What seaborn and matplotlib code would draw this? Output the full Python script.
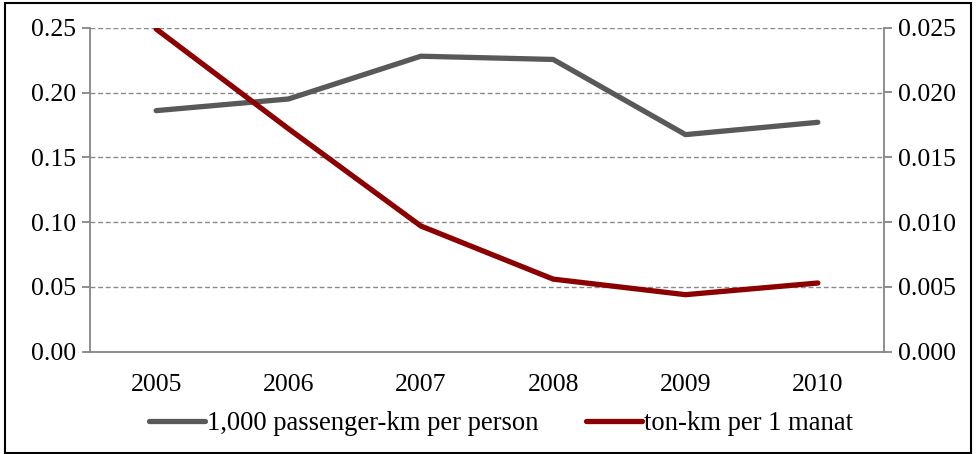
import matplotlib
matplotlib.use("Agg")
import matplotlib.pyplot as plt
import seaborn as sns
import pandas as pd
from matplotlib.patches import Rectangle

years = ["2005", "2006", "2007", "2008", "2009", "2010"]
passenger_km = [0.186, 0.195, 0.228, 0.2255, 0.1675, 0.177]
ton_km = [0.0249, 0.0172, 0.0097, 0.0056, 0.0044, 0.0053]
left_ticks = [0.00, 0.05, 0.10, 0.15, 0.20, 0.25]
right_ticks = [0.000, 0.005, 0.010, 0.015, 0.020, 0.025]
label_pass = "1,000 passenger-km per person"
label_ton = "ton-km per 1 manat"

sns.set_theme(style="white")
plt.rcParams['font.family'] = ['Liberation Serif', 'DejaVu Serif']
plt.rcParams['text.color'] = 'black'

df = pd.DataFrame({"idx": range(len(years)), "year": years,
                   "pass": passenger_km, "ton": ton_km})

W, H = 976, 454
FS = 18.5
fig = plt.figure(figsize=(W / 100, H / 100), dpi=100)
ax = fig.add_axes([90 / W, 1 - 351.7 / H, (884 - 90) / W, (351.7 - 27.7) / H])
ax2 = ax.twinx()

gray = "#595959"
red = "#8B0000"
axcol = "#868686"

sns.lineplot(data=df, x="idx", y="pass", ax=ax, color=gray, linewidth=3.8,
             label=label_pass, legend=False, solid_capstyle="round")
sns.lineplot(data=df, x="idx", y="ton", ax=ax2, color=red, linewidth=3.8,
             label=label_ton, legend=False, solid_capstyle="round")

ax.set_xlim(-0.5, len(years) - 0.5)
ax.set_ylim(0, 0.25)
ax2.set_ylim(0, 0.025)
ax.set_xlabel("")
ax.set_ylabel("")
ax2.set_ylabel("")

ax.set_yticks(left_ticks)
ax.set_yticklabels([f"{v:.2f}" for v in left_ticks])
ax2.set_yticks(right_ticks)
ax2.set_yticklabels([f"{v:.3f}" for v in right_ticks])

ax.set_xticks(range(len(years)))
ax.set_xticklabels(years)
ax.set_xticks([i - 0.5 for i in range(len(years) + 1)], minor=True)

ax.grid(axis="y", color="#8a8a8a", linestyle=(0, (3.5, 2)), linewidth=1.0)
ax.set_axisbelow(True)

for a in (ax, ax2):
    for s in a.spines.values():
        s.set_visible(False)
ax.spines["left"].set_visible(True)
ax.spines["bottom"].set_visible(True)
ax2.spines["right"].set_visible(True)
for s in (ax.spines["left"], ax.spines["bottom"], ax2.spines["right"]):
    s.set_color(axcol)
    s.set_linewidth(1.3)

ax.tick_params(axis="x", which="major", length=0, labelsize=FS, pad=16, colors="black")
ax.tick_params(axis="x", which="minor", length=6, width=1.3, color=axcol, direction="out")
ax.tick_params(axis="y", length=6, width=1.3, color=axcol, direction="out", labelsize=FS, pad=4,
               labelcolor="black", left=True)
ax2.tick_params(axis="y", length=6, width=1.3, color=axcol, direction="out", labelsize=FS, pad=4,
                labelcolor="black", right=True)

h1, l1 = ax.get_legend_handles_labels()
h2, l2 = ax2.get_legend_handles_labels()
fig.legend(h1 + h2, l1 + l2, loc="center", bbox_to_anchor=(0.5 + 13 / W, 1 - 424 / H), ncol=2,
           frameon=False, fontsize=19.2, handlelength=2.1, handletextpad=0.1,
           columnspacing=1.75, labelcolor="black")

fig.patches.append(Rectangle((5 / W, 1 / H), 966 / W, 1 - 4 / H, transform=fig.transFigure,
                             fill=False, edgecolor="black", linewidth=1.5))

fig.savefig("out.png", dpi=100)
